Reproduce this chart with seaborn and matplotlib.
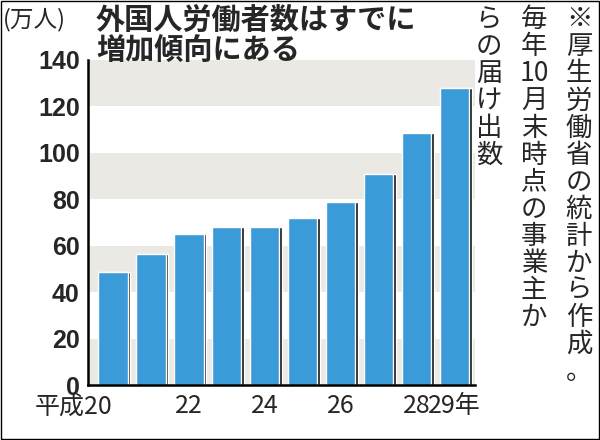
import matplotlib
matplotlib.use("Agg")
import matplotlib.pyplot as plt
import seaborn as sns
import pandas as pd
import numpy as np

years = ["20", "21", "22", "23", "24", "25", "26", "27", "28", "29"]
workers = [48.6, 56.2, 65.0, 68.2, 68.0, 71.8, 78.8, 90.8, 108.4, 127.9]
tick_labels = ["平成20", "", "22", "", "24", "", "26", "", "28", "29年"]
yticks = [0, 20, 40, 60, 80, 100, 120, 140]

sns.set_theme(style="white")
plt.rcParams['font.family'] = ['Noto Sans CJK JP', 'DejaVu Sans']

fig = plt.figure(figsize=(6, 4.4), dpi=100)
ax = fig.add_axes([0.147, 0.125, 0.645, 0.739])

for lo in [0, 40, 80, 120]:
    ax.axhspan(lo, lo + 20, color="#ebe9e4", zorder=0, lw=0)

df = pd.DataFrame({"year": years, "v": workers})
x = np.arange(len(years))
ax.bar(x + 0.07, workers, width=0.78, color="#111111", zorder=1)
sns.barplot(data=df, x="year", y="v", color="#3a9bd8", saturation=1, width=0.78, ax=ax, zorder=2)

ax.set_ylim(0, 140)
ax.set_xlim(-0.65, 9.55)
ax.set_yticks(yticks)
ax.set_yticklabels([str(t) for t in yticks], fontsize=18, fontweight="bold", family="Liberation Sans")
ax.set_xticks(x)
ax.set_xticklabels(tick_labels, fontsize=18)
ax.get_xticklabels()[0].set_ha("right")
ax.get_xticklabels()[0].set_x(0.3)
ax.tick_params(axis="x", length=0, pad=6)
ax.tick_params(axis="y", direction="in", length=6, width=1.5, color="black", pad=6)
ax.set_xlabel(""); ax.set_ylabel("")
for s in ["top", "right"]:
    ax.spines[s].set_visible(False)
for s in ["left", "bottom"]:
    ax.spines[s].set_color("black"); ax.spines[s].set_linewidth(1.8)

fig.text(0.005, 0.955, "(万人)", fontsize=17, va="center")
fig.text(0.16, 0.955, "外国人労働者数はすでに", fontsize=21, fontweight="bold", va="center")
fig.text(0.16, 0.885, "増加傾向にある", fontsize=21, fontweight="bold", va="center")

cols = ["※厚生労働省の統計から作成。", "毎年10月末時点の事業主か", "らの届け出数"]
xs = [0.965, 0.89, 0.815]
for col, xc in zip(cols, xs):
    i = 0
    k = 0
    while k < len(col):
        ch = col[k]
        if col[k:k+2] == "10":
            ch = "10"; k += 2
        else:
            k += 1
        fig.text(xc, 0.955 - i * 0.0615, ch, fontsize=19, ha="center", va="center")
        i += 1

fig.add_artist(plt.Rectangle((0.002, 0.002), 0.996, 0.996, transform=fig.transFigure,
                             fill=False, ec="black", lw=1))
fig.savefig("out.png", dpi=100)
